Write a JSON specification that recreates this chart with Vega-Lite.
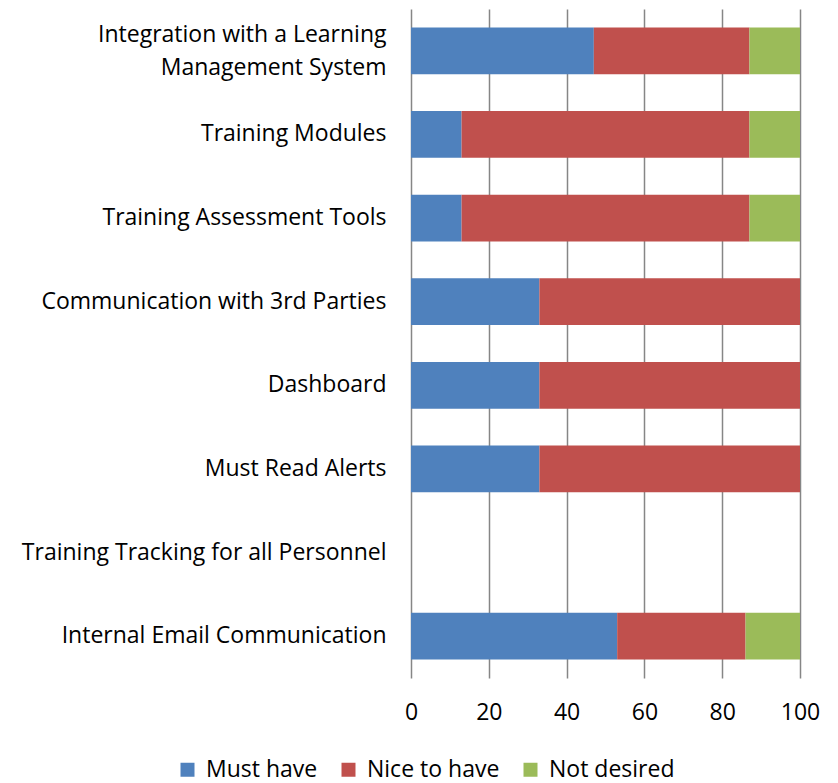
{
  "$schema": "https://vega.github.io/schema/vega-lite/v6.json",
  "width": 389,
  "height": 669,
  "autosize": "none",
  "padding": {"left": 411, "top": 9, "right": 38, "bottom": 105},
  "background": "white",
  "data": {
    "values": [
      {"feature": "Integration with a Learning Management System", "response": "Must have", "k": 1, "value": 47},
      {"feature": "Integration with a Learning Management System", "response": "Nice to have", "k": 2, "value": 40},
      {"feature": "Integration with a Learning Management System", "response": "Not desired", "k": 3, "value": 13},
      {"feature": "Training Modules", "response": "Must have", "k": 1, "value": 13},
      {"feature": "Training Modules", "response": "Nice to have", "k": 2, "value": 74},
      {"feature": "Training Modules", "response": "Not desired", "k": 3, "value": 13},
      {"feature": "Training Assessment Tools", "response": "Must have", "k": 1, "value": 13},
      {"feature": "Training Assessment Tools", "response": "Nice to have", "k": 2, "value": 74},
      {"feature": "Training Assessment Tools", "response": "Not desired", "k": 3, "value": 13},
      {"feature": "Communication with 3rd Parties", "response": "Must have", "k": 1, "value": 33},
      {"feature": "Communication with 3rd Parties", "response": "Nice to have", "k": 2, "value": 67},
      {"feature": "Dashboard", "response": "Must have", "k": 1, "value": 33},
      {"feature": "Dashboard", "response": "Nice to have", "k": 2, "value": 67},
      {"feature": "Must Read Alerts", "response": "Must have", "k": 1, "value": 33},
      {"feature": "Must Read Alerts", "response": "Nice to have", "k": 2, "value": 67},
      {"feature": "Internal Email Communication", "response": "Must have", "k": 1, "value": 53},
      {"feature": "Internal Email Communication", "response": "Nice to have", "k": 2, "value": 33},
      {"feature": "Internal Email Communication", "response": "Not desired", "k": 3, "value": 14}
    ]
  },
  "mark": {"type": "bar"},
  "encoding": {
    "y": {
      "field": "feature",
      "type": "nominal",
      "sort": null,
      "scale": {
        "domain": [
          "Integration with a Learning Management System",
          "Training Modules",
          "Training Assessment Tools",
          "Communication with 3rd Parties",
          "Dashboard",
          "Must Read Alerts",
          "Training Tracking for all Personnel",
          "Internal Email Communication"
        ],
        "paddingInner": 0.44,
        "paddingOuter": 0.22
      },
      "axis": {
        "title": null,
        "ticks": false,
        "domain": false,
        "grid": false,
        "labelPadding": 25,
        "labelFont": "Open Sans",
        "labelFontSize": 23,
        "labelColor": "#000000",
        "labelLimit": 500,
        "labelLineHeight": 33,
        "labelOffset": {"condition": {"test": "datum.value == 'Integration with a Learning Management System'", "value": -16}, "value": 0},
        "labelExpr": "datum.label == 'Integration with a Learning Management System' ? ['Integration with a Learning', 'Management System'] : datum.label"
      }
    },
    "x": {
      "field": "value",
      "type": "quantitative",
      "stack": "zero",
      "scale": {"domain": [0, 100], "nice": false},
      "axis": {
        "title": null,
        "values": [0, 20, 40, 60, 80, 100],
        "domain": false,
        "ticks": false,
        "grid": true,
        "gridColor": "#868686",
        "gridWidth": 1.5,
        "labelPadding": 23,
        "labelFont": "Open Sans",
        "labelFontSize": 23,
        "labelColor": "#000000",
        "labelFlush": false
      }
    },
    "color": {
      "field": "response",
      "type": "nominal",
      "scale": {
        "domain": ["Must have", "Nice to have", "Not desired"],
        "range": ["#4F81BD", "#C0504D", "#9BBB59"]
      },
      "legend": {
        "title": null,
        "orient": "none",
        "direction": "horizontal",
        "legendX": -235,
        "legendY": 749,
        "symbolType": "square",
        "symbolSize": 196,
        "symbolStrokeWidth": 0,
        "symbolOpacity": 1,
        "labelFont": "Open Sans",
        "labelFontSize": 23,
        "labelColor": "#000000",
        "labelOffset": 7,
        "columnPadding": 19,
        "labelLimit": 300
      }
    },
    "order": {"field": "k", "type": "ordinal"}
  },
  "config": {
    "view": {"stroke": null}
  }
}
